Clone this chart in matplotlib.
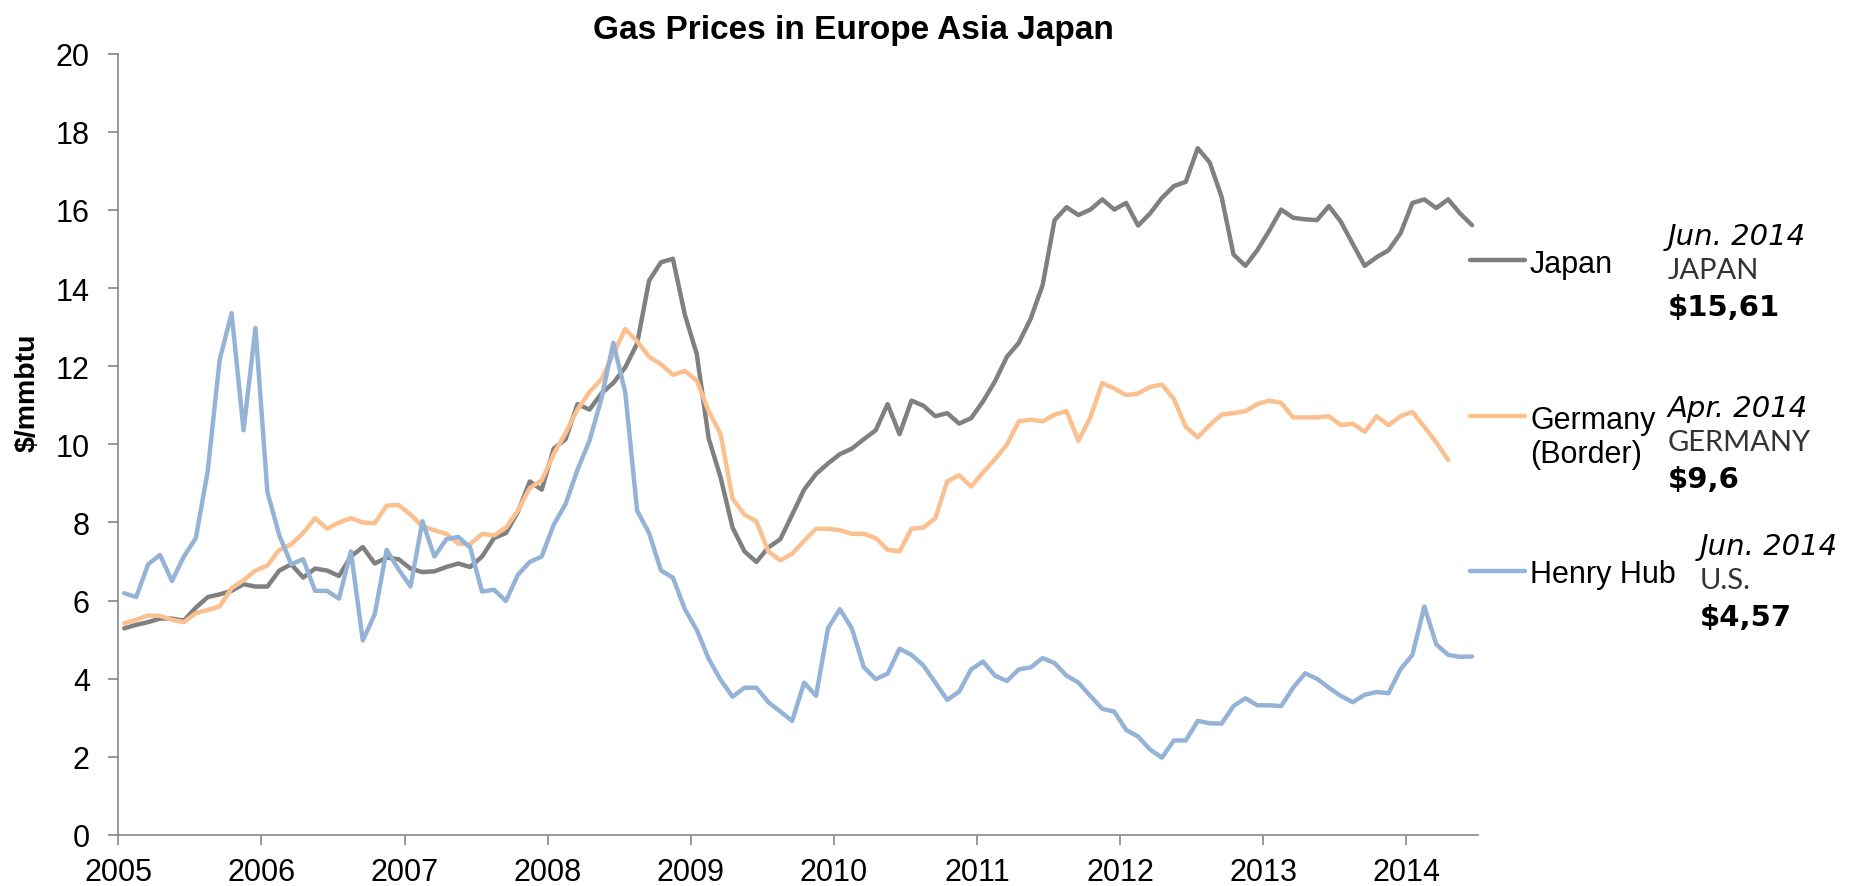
import numpy as np
import matplotlib
matplotlib.use("Agg")
import matplotlib.pyplot as plt
from matplotlib.lines import Line2D

# Monthly prices, Jan 2005 onwards ($/mmbtu)
japan = [5.29, 5.38, 5.45, 5.54, 5.54, 5.49, 5.82, 6.09, 6.16, 6.25, 6.42, 6.36,
         6.36, 6.77, 6.93, 6.59, 6.82, 6.77, 6.63, 7.13, 7.37, 6.95, 7.10, 7.06,
         6.82, 6.73, 6.75, 6.86, 6.95, 6.86, 7.13, 7.60, 7.73, 8.27, 9.05, 8.84,
         9.89, 10.13, 11.03, 10.89, 11.30, 11.57, 11.97, 12.58, 14.19, 14.66, 14.75, 13.32,
         12.31, 10.15, 9.15, 7.87, 7.26, 6.99, 7.36, 7.57, 8.20, 8.84, 9.24, 9.51,
         9.75, 9.89, 10.13, 10.36, 11.03, 10.26, 11.12, 10.99, 10.72, 10.80, 10.53, 10.67,
         11.10, 11.61, 12.24, 12.60, 13.22, 14.08, 15.74, 16.07, 15.87, 16.01, 16.27, 16.01,
         16.18, 15.60, 15.91, 16.31, 16.61, 16.72, 17.58, 17.22, 16.34, 14.86, 14.57, 14.97,
         15.47, 16.01, 15.80, 15.76, 15.74, 16.10, 15.70, 15.13, 14.57, 14.79, 14.97, 15.40,
         16.18, 16.27, 16.05, 16.27, 15.91, 15.61]

germany = [5.42, 5.51, 5.62, 5.61, 5.51, 5.45, 5.68, 5.76, 5.85, 6.32, 6.52, 6.77,
           6.90, 7.30, 7.44, 7.73, 8.11, 7.84, 8.00, 8.11, 8.00, 7.98, 8.43, 8.45,
           8.20, 7.90, 7.80, 7.71, 7.46, 7.44, 7.71, 7.67, 7.87, 8.30, 8.88, 9.08,
           9.75, 10.29, 10.89, 11.34, 11.66, 12.31, 12.95, 12.64, 12.24, 12.05, 11.78, 11.88,
           11.63, 10.85, 10.26, 8.61, 8.20, 8.03, 7.26, 7.03, 7.20, 7.53, 7.84, 7.84,
           7.80, 7.71, 7.71, 7.60, 7.30, 7.26, 7.84, 7.87, 8.11, 9.05, 9.21, 8.92,
           9.28, 9.62, 9.99, 10.59, 10.63, 10.59, 10.76, 10.85, 10.09, 10.69, 11.57, 11.43,
           11.26, 11.30, 11.47, 11.53, 11.16, 10.45, 10.18, 10.49, 10.76, 10.80, 10.85, 11.03,
           11.12, 11.06, 10.69, 10.69, 10.69, 10.72, 10.49, 10.53, 10.32, 10.72, 10.49, 10.72,
           10.83, 10.45, 10.05, 9.60]

henry_hub = [6.19, 6.09, 6.93, 7.17, 6.50, 7.13, 7.60, 9.32, 12.17, 13.36, 10.36, 12.98,
             8.78, 7.67, 6.93, 7.06, 6.25, 6.25, 6.05, 7.26, 4.98, 5.65, 7.30, 6.80,
             6.36, 8.03, 7.13, 7.57, 7.63, 7.36, 6.23, 6.28, 5.99, 6.66, 6.99, 7.13,
             7.94, 8.47, 9.35, 10.09, 11.16, 12.60, 11.34, 8.30, 7.73, 6.77, 6.59, 5.78,
             5.25, 4.51, 3.97, 3.54, 3.77, 3.77, 3.40, 3.16, 2.92, 3.90, 3.56, 5.29,
             5.78, 5.29, 4.30, 3.99, 4.13, 4.77, 4.61, 4.34, 3.90, 3.46, 3.67, 4.24,
             4.44, 4.08, 3.94, 4.24, 4.29, 4.53, 4.40, 4.08, 3.90, 3.56, 3.23, 3.16,
             2.69, 2.52, 2.19, 1.98, 2.42, 2.42, 2.92, 2.86, 2.85, 3.30, 3.50, 3.32,
             3.32, 3.30, 3.77, 4.14, 4.00, 3.77, 3.56, 3.40, 3.59, 3.66, 3.63, 4.24,
             4.61, 5.85, 4.88, 4.61, 4.56, 4.57]

series_names = ["Japan", "Germany\n(Border)", "Henry Hub"]
series_colors = ["#808080", "#FAC090", "#95B3D7"]
years = list(range(2005, 2015))

# right hand notes: date, place, last price
note_dates = ["Jun. 2014", "Apr. 2014", "Jun. 2014"]
note_places = ["JAPAN", "GERMANY", "U.S."]
note_values = ["$15,61", "$9,6", "$4,57"]

W, H = 1852, 887


def fx(px):
    return px / W


def fy(py):
    return 1 - py / H


fig = plt.figure(figsize=(W / 100, H / 100), dpi=100)
ax = fig.add_axes([fx(118.3), fy(836), fx(1478) - fx(118.3), fy(54.7) - fy(836)])

axis_gray = "#868686"
line_w = 3.2
for values, color in zip([japan, germany, henry_hub], series_colors):
    x = 2005 + (np.arange(len(values)) + 0.5) / 12.0
    ax.plot(x, values, color=color, lw=line_w, solid_joinstyle="round", solid_capstyle="round")

ax.set_xlim(2005, 2014.5)
ax.set_ylim(0, 20)
ax.set_yticks(range(0, 21, 2))
ax.set_xticks(years)
ax.set_xticklabels([str(y) for y in years])

for s in ["top", "right"]:
    ax.spines[s].set_visible(False)
for s in ["left", "bottom"]:
    ax.spines[s].set_color(axis_gray)
    ax.spines[s].set_linewidth(1.2)

ax.tick_params(axis="both", colors=axis_gray, labelcolor="black", labelsize=22,
               length=7.5, width=1.2, direction="out")
ax.tick_params(axis="y", pad=13)
ax.tick_params(axis="x", pad=8)
for lab in ax.get_xticklabels() + ax.get_yticklabels():
    lab.set_family("Liberation Sans")

# y label and title placed in figure pixels
fig.text(fx(28), fy(393), "$/mmbtu", fontsize=20.5, fontweight="bold", family="Liberation Sans",
         rotation=90, ha="center", va="center")
fig.text(fx(853), fy(39), "Gas Prices in Europe Asia Japan", fontsize=24, fontweight="bold",
         family="Liberation Sans", ha="center", va="baseline")

# legend drawn by hand, Excel style
key_y = [261, 417, 572]
text_base = [273, 429, 583]
for name, color, ky, tb in zip(series_names, series_colors, key_y, text_base):
    fig.add_artist(Line2D([fx(1470), fx(1525)], [fy(ky), fy(ky)], color=color, lw=line_w,
                          solid_capstyle="round"))
    for k, part in enumerate(name.split("\n")):
        fig.text(fx(1530), fy(tb + 34 * k), part, fontsize=22, family="Liberation Sans",
                 ha="left", va="baseline")

# notes with the latest prices
note_x = [1668, 1668, 1700]
note_base = [245, 417, 555]
for d, p, v, nx, nb in zip(note_dates, note_places, note_values, note_x, note_base):
    fig.text(fx(nx), fy(nb), d, fontsize=21, family="DejaVu Sans", style="italic",
             ha="left", va="baseline")
    fig.text(fx(nx), fy(nb + 34), p, fontsize=21, family="Lato", fontweight="normal",
             color="#333333", ha="left", va="baseline")
    fig.text(fx(nx), fy(nb + 71), v, fontsize=21, family="DejaVu Sans", fontweight="bold",
             ha="left", va="baseline")

fig.savefig("out.png", dpi=100)
